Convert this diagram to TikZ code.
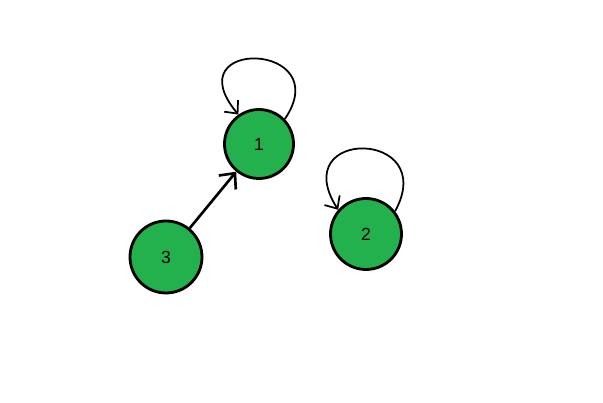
\documentclass[tikz,border=0pt]{standalone}
\usepackage{fontspec}
\setmainfont{Liberation Sans}
\usetikzlibrary{arrows.meta, positioning}
\definecolor{paintgreen}{RGB}{34, 177, 76}

\begin{document}
\begin{tikzpicture}[
        vertex/.style={circle, draw=black, line width=1.6pt, fill=paintgreen,
                       minimum size=1.38cm, inner sep=0pt, font=\normalsize},
        arr/.style={-{Straight Barb[length=2.4mm, width=4.4mm]}, line width=1.5pt},
        loop/.style={-{Straight Barb[length=2mm, width=3.6mm]}, line width=1pt}
      ]
        \useasboundingbox (0,0) rectangle (12.06,8.06);

        \node[vertex] (v1) at (5.18,5.18) {1};
        \node[vertex, minimum size=1.42cm] (v2) at (7.32,3.38) {2};
        \node[vertex, minimum size=1.44cm] (v3) at (3.32,2.92) {3};

        \draw[arr] (v3) -- (v1);

        % self loops
        \draw[loop] (v1.44) .. controls +(1.05,1.55) and +(-1.3,1.55) .. (v1.125);
        \draw[loop] (v2.38) .. controls +(0.9,1.65) and +(-1.05,1.65) .. (v2.139);
      \end{tikzpicture}
\end{document}
